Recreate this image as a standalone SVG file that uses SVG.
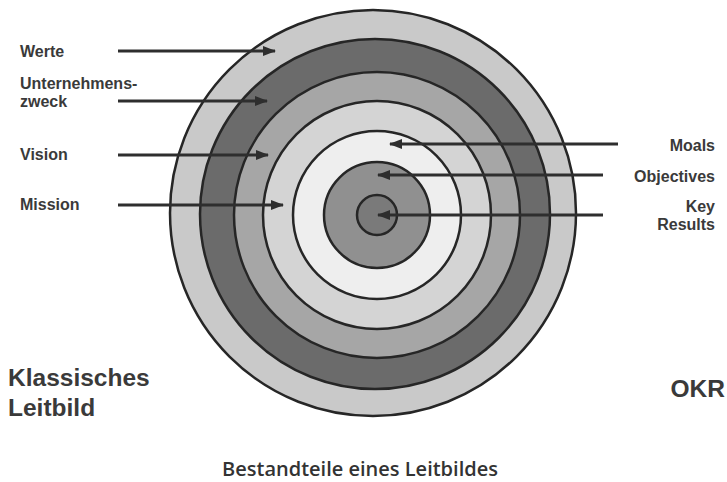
<svg xmlns="http://www.w3.org/2000/svg" width="727" height="482" viewBox="0 0 727 482">
<defs>
<style>
.ring{stroke:#262626;stroke-width:2.5}
.lbl{font-family:"Liberation Sans",Arial,sans-serif;font-weight:bold;font-size:16px;fill:#3a3a3a}
.big{font-family:"Liberation Sans",Arial,sans-serif;font-weight:bold;font-size:24.5px;fill:#3a3a3a}
.title{font-family:"Open Sans","Liberation Sans",sans-serif;font-weight:600;font-size:20px;fill:#333}
.arr{stroke:#2e2e2e;stroke-width:3;fill:none;marker-end:url(#ah)}
</style>
<marker id="ah" viewBox="0 0 13 10" refX="12" refY="5" markerWidth="13" markerHeight="10" markerUnits="userSpaceOnUse" orient="auto">
<path d="M0,0 L13,5 L0,10 z" fill="#2e2e2e"/>
</marker>
</defs>
<rect width="727" height="482" fill="#fff"/>
<g id="target">
<g id="ring-werte"><circle class="ring" cx="373" cy="213" r="203" fill="#c9c9c9"/></g>
<g id="ring-zweck"><circle class="ring" cx="375" cy="214" r="175" fill="#6b6b6b"/></g>
<g id="ring-vision"><circle class="ring" cx="377" cy="215" r="143" fill="#a6a6a6"/></g>
<g id="ring-mission"><circle class="ring" cx="377" cy="215" r="114" fill="#d4d4d4"/></g>
<g id="ring-moals"><circle class="ring" cx="377" cy="215" r="84" fill="#eeeeee"/></g>
<g id="ring-objectives"><circle class="ring" cx="377" cy="215" r="53" fill="#909090"/></g>
<g id="ring-kr"><circle class="ring" cx="377" cy="215" r="20" fill="#7a7a7a"/></g>
</g>
<g id="connectors">
<line class="arr" x1="118" y1="51" x2="275" y2="51"/>
<line class="arr" x1="118" y1="101" x2="267" y2="101"/>
<line class="arr" x1="118" y1="155" x2="268" y2="155"/>
<line class="arr" x1="118" y1="205" x2="283" y2="205"/>
<line class="arr" x1="618" y1="144" x2="390" y2="144"/>
<line class="arr" x1="603" y1="175" x2="378" y2="175"/>
<line class="arr" x1="603" y1="215" x2="378" y2="215"/>
</g>
<g id="label-werte"><text class="lbl" x="20" y="57">Werte</text></g>
<g id="label-zweck"><text class="lbl" x="20" y="89">Unternehmens-</text><text class="lbl" x="20" y="107">zweck</text></g>
<g id="label-vision"><text class="lbl" x="20" y="160">Vision</text></g>
<g id="label-mission"><text class="lbl" x="20" y="210">Mission</text></g>
<g id="label-moals"><text class="lbl" x="715" y="151" text-anchor="end">Moals</text></g>
<g id="label-objectives"><text class="lbl" x="715" y="182" text-anchor="end">Objectives</text></g>
<g id="label-kr"><text class="lbl" x="715" y="212" text-anchor="end">Key</text><text class="lbl" x="715" y="230" text-anchor="end">Results</text></g>
<g id="label-klassisch"><text class="big" x="8" y="386">Klassisches</text><text class="big" x="8" y="416">Leitbild</text></g>
<g id="label-okr"><text class="big" x="725" y="397" text-anchor="end">OKR</text></g>
<g id="title"><text class="title" x="360" y="476" text-anchor="middle">Bestandteile eines Leitbildes</text></g>
</svg>
